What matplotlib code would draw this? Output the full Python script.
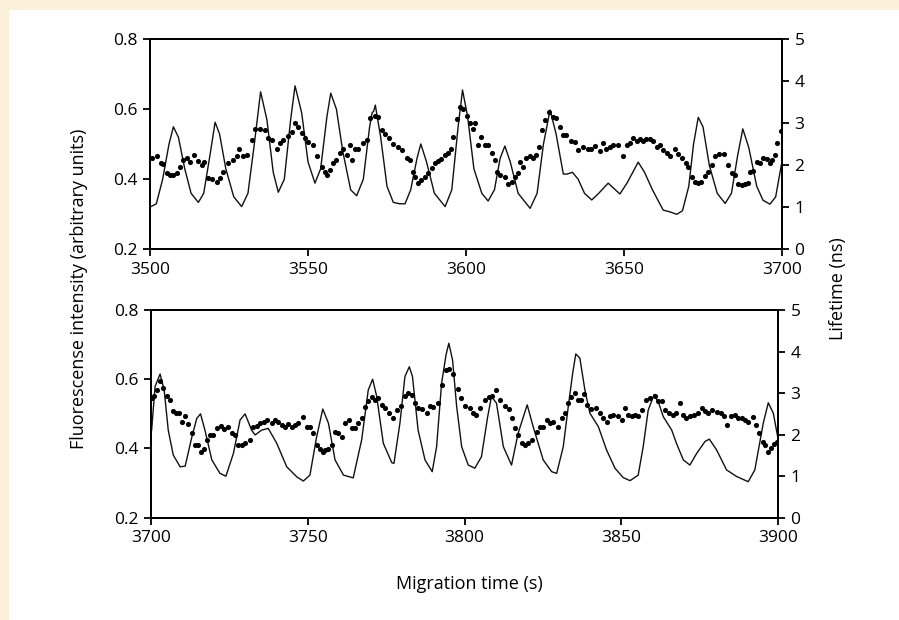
import matplotlib
matplotlib.use("Agg")
import matplotlib.pyplot as plt
from matplotlib.patches import Rectangle

plt.rcParams["font.family"] = ["Open Sans", "DejaVu Sans"]

# top panel, fluorescence trace (s, arbitrary units)
top_line_t = [3500.3, 3502, 3504, 3506, 3507.4, 3509, 3511, 3513, 3515.3, 3517, 3519, 3520.6,
              3522, 3524, 3526.5, 3529, 3531, 3533, 3535, 3537, 3539, 3540.6, 3542.5, 3544.5,
              3545.9, 3548, 3550, 3552.2, 3554, 3556, 3557.2, 3559, 3561, 3563.5, 3565.4, 3567.5,
              3569.5, 3570.3, 3570.8, 3571.3, 3573, 3575, 3577, 3579, 3580.7, 3582.5, 3584.5, 3585.7,
              3587.5, 3590, 3593.4, 3595.5, 3597.5, 3598.9, 3600.5, 3602.5, 3605, 3607, 3609, 3610.8,
              3612.3, 3614, 3616.5, 3620.3, 3622.5, 3624.5, 3626.6, 3628.5, 3630.8, 3632, 3633.7, 3635.5,
              3637.5, 3639.8, 3642, 3645, 3648.7, 3651, 3654.5, 3656.5, 3659, 3662.4, 3664.5, 3666.7,
              3668.5, 3670.5, 3672, 3673.5, 3675, 3677, 3679.5, 3682, 3684, 3686, 3687.6, 3689.5,
              3692, 3694, 3696.2, 3698, 3699.9]
top_line_i = [0.322, 0.33, 0.40, 0.50, 0.55, 0.52, 0.43, 0.36, 0.334, 0.36, 0.47, 0.563,
              0.53, 0.43, 0.35, 0.322, 0.36, 0.50, 0.65, 0.57, 0.42, 0.363, 0.40, 0.57,
              0.667, 0.59, 0.45, 0.389, 0.43, 0.58, 0.646, 0.60, 0.48, 0.37, 0.353, 0.40,
              0.55, 0.59, 0.595, 0.612, 0.52, 0.38, 0.334, 0.33, 0.33, 0.37, 0.46, 0.501,
              0.45, 0.36, 0.322, 0.37, 0.55, 0.655, 0.58, 0.43, 0.36, 0.338, 0.37, 0.46,
              0.495, 0.45, 0.36, 0.317, 0.36, 0.50, 0.598, 0.53, 0.415, 0.415, 0.42, 0.40,
              0.36, 0.341, 0.36, 0.389, 0.358, 0.39, 0.449, 0.42, 0.37, 0.312, 0.307, 0.30,
              0.31, 0.38, 0.50, 0.577, 0.55, 0.44, 0.36, 0.331, 0.36, 0.47, 0.544, 0.49,
              0.38, 0.34, 0.329, 0.35, 0.446]

# top panel, lifetime (s, ns)
top_dot_t = [3500.5, 3502.1, 3503.4, 3504.2, 3505.3, 3506.3, 3507.4, 3508.4, 3509.5, 3510.3, 3511.6, 3512.7,
             3514.0, 3515.3, 3516.4, 3517.1, 3518.5, 3519.5, 3521.1, 3522.1, 3523.2, 3524.8, 3526.4, 3527.4,
             3528.2, 3529.5, 3530.6, 3532.2, 3533.2, 3534.8, 3536.4, 3537.4, 3538.5, 3540.1, 3541.1, 3542.2,
             3543.8, 3544.8, 3545.9, 3546.9, 3548.0, 3549.0, 3550.1, 3551.5, 3552.7, 3554.3, 3555.4, 3556.1,
             3556.9, 3558.0, 3559.0, 3560.1, 3561.2, 3562.2, 3563.3, 3563.8, 3564.9, 3565.9, 3567.5, 3568.6,
             3569.6, 3571.2, 3572.3, 3573.3, 3574.4, 3575.5, 3576.9, 3578.5, 3579.9, 3581.2, 3582.2, 3583.3,
             3583.8, 3584.9, 3585.9, 3587.0, 3588.0, 3589.1, 3590.1, 3591.2, 3592.2, 3593.3, 3594.4, 3595.1,
             3595.9, 3597.0, 3598.1, 3599.1, 3600.2, 3601.2, 3602.1, 3602.9, 3603.9, 3604.9, 3606.0, 3607.0,
             3608.1, 3609.1, 3609.9, 3610.9, 3612.3, 3613.3, 3614.4, 3615.5, 3616.3, 3617.0, 3618.1, 3619.1,
             3620.2, 3621.3, 3622.3, 3623.1, 3623.9, 3625.0, 3626.3, 3627.6, 3628.6, 3629.9, 3630.8, 3631.8,
             3633.1, 3634.4, 3635.5, 3637.1, 3638.7, 3639.7, 3640.8, 3642.4, 3643.4, 3644.3, 3645.5, 3646.6,
             3648.2, 3649.7, 3650.8, 3651.9, 3652.9, 3654.0, 3655.0, 3656.1, 3657.1, 3658.2, 3659.2, 3660.3,
             3661.3, 3662.4, 3663.5, 3664.5, 3666.1, 3667.1, 3668.5, 3669.6, 3670.3, 3671.4, 3672.4, 3673.5,
             3674.5, 3675.6, 3676.6, 3677.7, 3678.8, 3680.2, 3681.6, 3683.0, 3684.1, 3685.1, 3686.2, 3687.2,
             3688.3, 3689.3, 3689.9, 3690.9, 3692.0, 3693.0, 3694.1, 3695.1, 3696.2, 3696.7, 3697.8, 3698.5,
             3699.7]
top_dot_ns = [2.18, 2.22, 2.05, 2.03, 1.81, 1.76, 1.77, 1.81, 1.97, 2.13, 2.17, 2.09,
              2.25, 2.11, 2.01, 2.09, 1.69, 1.67, 1.61, 1.69, 1.85, 2.05, 2.13, 2.21,
              2.40, 2.22, 2.25, 2.60, 2.86, 2.86, 2.84, 2.64, 2.60, 2.39, 2.52, 2.60,
              2.70, 2.80, 3.01, 2.92, 2.78, 2.64, 2.56, 2.48, 2.21, 1.97, 1.85, 1.77,
              1.89, 2.05, 2.13, 2.29, 2.40, 2.25, 2.48, 2.13, 2.40, 2.40, 2.52, 2.60,
              3.12, 3.17, 3.16, 2.84, 2.74, 2.64, 2.50, 2.43, 2.37, 2.17, 2.13, 1.85,
              1.73, 1.59, 1.65, 1.73, 1.81, 1.93, 2.05, 2.11, 2.14, 2.25, 2.29, 2.40,
              2.68, 3.10, 3.40, 3.33, 3.17, 3.00, 2.86, 3.00, 2.48, 2.68, 2.48, 2.48,
              2.29, 2.13, 1.85, 1.77, 1.73, 1.56, 1.61, 1.73, 1.81, 2.09, 1.95, 2.17,
              2.22, 2.17, 2.25, 2.44, 2.83, 3.08, 3.28, 3.16, 3.12, 2.92, 2.72, 2.72,
              2.58, 2.56, 2.37, 2.44, 2.40, 2.40, 2.46, 2.35, 2.54, 2.40, 2.44, 2.48,
              2.48, 2.22, 2.48, 2.52, 2.64, 2.58, 2.62, 2.58, 2.62, 2.62, 2.59, 2.43,
              2.48, 2.37, 2.29, 2.21, 2.40, 2.27, 2.17, 2.06, 1.97, 1.73, 1.61, 1.59,
              1.61, 1.75, 1.85, 2.01, 2.21, 2.27, 2.26, 2.01, 1.81, 1.77, 1.56, 1.53,
              1.56, 1.59, 1.85, 1.87, 2.09, 2.06, 2.17, 2.14, 2.05, 2.13, 2.25, 2.52,
              2.82]

# bottom panel, fluorescence trace
bot_line_t = [3700.2, 3701.3, 3702.9, 3704.2, 3705.5, 3707.1, 3709.3, 3710.9, 3713, 3714.6, 3715.8, 3717.2,
              3719.4, 3722, 3723.9, 3726.3, 3728.4, 3730, 3732.1, 3733.2, 3735.3, 3737.4, 3740.1, 3743.3,
              3746.5, 3748.6, 3750.7, 3752.8, 3754.8, 3756.6, 3758.7, 3761.4, 3764.5, 3767.2, 3769.3, 3770.7,
              3772, 3774.1, 3776.8, 3777.5, 3779.4, 3781, 3782.4, 3783.4, 3785.2, 3787.4, 3789.7, 3791.1,
              3792.7, 3794.1, 3795, 3796.2, 3797.5, 3799.1, 3801.2, 3803.3, 3805.4, 3807.4, 3808.6, 3810.2,
              3812.4, 3815, 3817.1, 3820, 3821.9, 3825.1, 3827.8, 3829.4, 3831.5, 3833.1, 3834.5, 3835.5,
              3836.8, 3838.4, 3840, 3842.7, 3845.3, 3848, 3850.6, 3852.8, 3855.4, 3857, 3858.6, 3860.5,
              3862, 3863.4, 3866.1, 3867.6, 3869.8, 3871.9, 3874, 3876.7, 3878.1, 3880.4, 3883.6, 3886.8,
              3890.5, 3892.6, 3895.3, 3896.9, 3898.5, 3899.9]
bot_line_i = [0.453, 0.579, 0.615, 0.569, 0.453, 0.381, 0.347, 0.349, 0.432, 0.487, 0.50, 0.453,
              0.367, 0.328, 0.320, 0.386, 0.482, 0.50, 0.453, 0.439, 0.453, 0.458, 0.415, 0.347,
              0.318, 0.306, 0.323, 0.432, 0.514, 0.473, 0.367, 0.323, 0.315, 0.425, 0.569, 0.600,
              0.550, 0.415, 0.359, 0.357, 0.473, 0.608, 0.636, 0.608, 0.453, 0.367, 0.333, 0.405,
              0.589, 0.670, 0.704, 0.655, 0.521, 0.405, 0.352, 0.343, 0.376, 0.492, 0.55, 0.531,
              0.405, 0.352, 0.444, 0.526, 0.463, 0.367, 0.333, 0.328, 0.405, 0.521, 0.617, 0.673,
              0.661, 0.569, 0.502, 0.463, 0.396, 0.343, 0.316, 0.307, 0.323, 0.405, 0.511, 0.556,
              0.53, 0.492, 0.453, 0.415, 0.367, 0.352, 0.385, 0.420, 0.427, 0.396, 0.338, 0.319,
              0.304, 0.338, 0.473, 0.532, 0.502, 0.434]

# bottom panel, lifetime
bot_dot_t = [3700.2, 3701.0, 3701.8, 3702.9, 3703.9, 3705.0, 3706.1, 3706.9, 3708.0, 3709.0, 3709.8, 3710.8,
             3711.9, 3713.0, 3714.0, 3715.1, 3716.0, 3716.9, 3717.8, 3718.8, 3719.9, 3721.2, 3722.2, 3723.3,
             3724.7, 3725.7, 3726.8, 3727.9, 3728.9, 3730.0, 3731.6, 3732.6, 3733.7, 3734.8, 3736.1, 3737.1,
             3738.5, 3739.6, 3740.6, 3741.7, 3742.7, 3743.8, 3744.9, 3745.9, 3747.0, 3748.6, 3749.7, 3750.7,
             3751.6, 3752.8, 3753.9, 3754.8, 3755.5, 3756.6, 3757.6, 3758.7, 3759.8, 3760.8, 3761.9, 3763.0,
             3764.0, 3765.1, 3766.1, 3767.2, 3768.3, 3769.3, 3770.4, 3771.5, 3772.5, 3773.6, 3774.6, 3776.0,
             3777.3, 3778.6, 3779.9, 3781.0, 3782.0, 3783.1, 3784.2, 3785.2, 3786.3, 3787.9, 3789.0, 3790.0,
             3791.6, 3792.9, 3794.1, 3795.1, 3796.4, 3797.8, 3798.8, 3800.1, 3801.7, 3802.8, 3803.8, 3804.9,
             3806.5, 3807.9, 3808.9, 3810.0, 3811.3, 3812.9, 3814.3, 3815.3, 3816.1, 3817.1, 3818.2, 3819.3,
             3820.3, 3821.4, 3823.0, 3824.0, 3825.1, 3826.2, 3827.2, 3828.3, 3829.9, 3831.0, 3832.0, 3833.1,
             3834.1, 3835.2, 3836.3, 3837.3, 3838.2, 3839.1, 3840.5, 3842.1, 3843.2, 3844.2, 3845.3, 3846.4,
             3847.4, 3849.0, 3850.1, 3851.2, 3852.2, 3853.3, 3854.3, 3855.4, 3856.5, 3857.9, 3859.1, 3860.7,
             3861.8, 3862.9, 3863.9, 3865.3, 3866.4, 3867.4, 3868.7, 3869.8, 3870.8, 3871.9, 3873.2, 3874.6,
             3875.6, 3876.7, 3877.7, 3879.1, 3880.4, 3881.7, 3882.8, 3883.8, 3884.9, 3886.3, 3887.3, 3888.4,
             3889.5, 3890.5, 3891.9, 3892.9, 3894.0, 3895.1, 3895.8, 3896.9, 3897.7, 3898.7, 3899.6]
bot_dot_ns = [2.88, 2.92, 3.08, 3.28, 3.12, 2.92, 2.84, 2.58, 2.53, 2.53, 2.31, 2.44,
              2.26, 2.05, 1.75, 1.74, 1.59, 1.65, 1.87, 1.98, 1.99, 2.15, 2.21, 2.13,
              2.19, 2.03, 1.99, 1.75, 1.74, 1.79, 1.87, 2.18, 2.21, 2.27, 2.31, 2.35,
              2.29, 2.35, 2.31, 2.23, 2.19, 2.26, 2.19, 2.23, 2.29, 2.42, 2.19, 2.18,
              2.03, 1.74, 1.65, 1.57, 1.63, 1.65, 1.75, 2.07, 2.03, 1.95, 2.29, 2.35,
              2.15, 2.15, 2.27, 2.39, 2.66, 2.80, 2.90, 2.84, 2.88, 2.72, 2.64, 2.53,
              2.39, 2.60, 2.68, 2.93, 2.99, 2.96, 2.76, 2.64, 2.61, 2.52, 2.68, 2.66,
              2.76, 3.20, 3.56, 3.58, 3.46, 3.09, 2.88, 2.69, 2.64, 2.53, 2.47, 2.64,
              2.84, 2.90, 2.92, 3.08, 2.84, 2.68, 2.61, 2.40, 2.15, 1.99, 1.79, 1.75,
              1.79, 1.87, 2.07, 2.18, 2.19, 2.35, 2.27, 2.31, 2.19, 2.40, 2.52, 2.76,
              2.90, 3.01, 2.84, 2.84, 2.98, 2.72, 2.61, 2.64, 2.52, 2.40, 2.31, 2.44,
              2.48, 2.44, 2.35, 2.64, 2.48, 2.44, 2.48, 2.44, 2.60, 2.84, 2.88, 2.93,
              2.80, 2.80, 2.60, 2.53, 2.47, 2.51, 2.76, 2.47, 2.40, 2.44, 2.48, 2.52,
              2.64, 2.58, 2.52, 2.60, 2.55, 2.51, 2.45, 2.23, 2.45, 2.47, 2.40, 2.40,
              2.35, 2.31, 2.42, 2.23, 2.05, 1.83, 1.75, 1.59, 1.67, 1.78, 1.83]

left_ticks = [0.2, 0.4, 0.6, 0.8]
right_ticks = [0, 1, 2, 3, 4, 5]
top_xticks = [3500, 3550, 3600, 3650, 3700]
bot_xticks = [3700, 3750, 3800, 3850, 3900]

W, H = 899, 620
fig = plt.figure(figsize=(W / 100, H / 100), dpi=100)
fig.patch.set_facecolor("#fdf0da")
fig.patches.append(Rectangle((9 / W, 0), 1 - 9 / W, 1 - 10 / H, transform=fig.transFigure,
                             facecolor="white", edgecolor="none", zorder=-10))


def panel(box, line_t, line_i, dot_t, dot_ns, xticks):
    x0, y0, x1, y1 = box
    ax = fig.add_axes([x0 / W, 1 - y1 / H, (x1 - x0) / W, (y1 - y0) / H])
    ax.set_facecolor("none")
    ax.plot(line_t, line_i, color="#111111", lw=1.0, solid_joinstyle="round")
    ax.set_xlim(xticks[0], xticks[-1])
    ax.set_ylim(0.2, 0.8)
    ax.set_xticks(xticks)
    ax.set_yticks(left_ticks)
    ax.set_yticklabels(["%.1f" % v for v in left_ticks])
    ax2 = ax.twinx()
    ax2.plot(dot_t, dot_ns, "o", color="#000000", ms=3.7, mec="none")
    ax2.set_ylim(0, 5)
    ax2.set_yticks(right_ticks)
    for a in (ax, ax2):
        for s in a.spines.values():
            s.set_linewidth(1.3)
        a.tick_params(direction="out", length=5, width=1.3, labelsize=12.5, pad=4)
    return ax


panel((150, 39.3, 782, 249.3), top_line_t, top_line_i, top_dot_t, top_dot_ns, top_xticks)
panel((151, 310, 778, 517.7), bot_line_t, bot_line_i, bot_dot_t, bot_dot_ns, bot_xticks)

fig.text(79 / W, 1 - 289 / H, "Fluorescense intensity (arbitrary units)", rotation=90,
         ha="center", va="center", fontsize=13)
fig.text(838 / W, 1 - 289 / H, "Lifetime (ns)", rotation=90, ha="center", va="center", fontsize=13)
fig.text(469 / W, 1 - 584 / H, "Migration time (s)", ha="center", va="center", fontsize=13)

fig.savefig("out.png", dpi=100, facecolor=fig.get_facecolor())
